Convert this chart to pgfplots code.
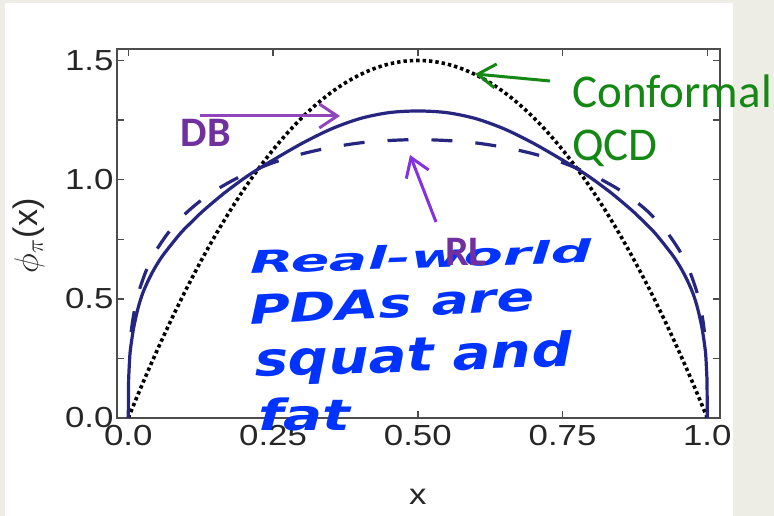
\RequirePackage{fix-cm}
\documentclass[border=0pt]{standalone}
\usepackage{pgfplots}
\pgfplotsset{compat=1.18}
\usepackage{fontspec}
\usepackage{graphicx}
\usetikzlibrary{arrows.meta}
\setmainfont{Liberation Sans}
\newfontfamily\tickfont[FakeStretch=1.2]{Liberation Sans}
\newfontfamily\callfont{Carlito}
\newfontfamily\wafont{DejaVu Sans}
\definecolor{bgbeige}{RGB}{238,237,229}
\definecolor{navy}{RGB}{38,38,128}
\definecolor{dbpurple}{RGB}{112,48,160}
\definecolor{arrpurple}{RGB}{145,70,190}
\definecolor{rlarrow}{RGB}{130,50,225}
\definecolor{qcdgreen}{RGB}{20,135,20}
\definecolor{wablue}{RGB}{0,51,255}

\pgfplotstableread{
x y
0 0
0.025 0.14625
0.05 0.285
0.075 0.41625
0.1 0.54
0.125 0.65625
0.15 0.765
0.175 0.86625
0.2 0.96
0.225 1.04625
0.25 1.125
0.275 1.19625
0.3 1.26
0.325 1.31625
0.35 1.365
0.375 1.40625
0.4 1.44
0.425 1.46625
0.45 1.485
0.475 1.49625
0.5 1.5
0.525 1.49625
0.55 1.485
0.575 1.46625
0.6 1.44
0.625 1.40625
0.65 1.365
0.675 1.31625
0.7 1.26
0.725 1.19625
0.75 1.125
0.775 1.04625
0.8 0.96
0.825 0.86625
0.85 0.765
0.875 0.65625
0.9 0.54
0.925 0.41625
0.95 0.285
0.975 0.14625
1 0
}\conformal

\pgfplotstableread{
x y
0 0
0.0005 0.145
0.001 0.185
0.0029 0.269
0.0058 0.325
0.01 0.388
0.0173 0.465
0.025 0.524
0.0345 0.577
0.045 0.626
0.0576 0.675
0.075 0.730
0.092 0.780
0.11 0.824
0.127 0.864
0.147 0.906
0.167 0.946
0.19 0.988
0.213 1.027
0.25 1.082
0.3 1.152
0.35 1.212
0.4 1.256
0.45 1.281
0.5 1.288
0.55 1.281
0.6 1.256
0.65 1.212
0.7 1.152
0.75 1.082
0.787 1.027
0.81 0.988
0.833 0.946
0.853 0.906
0.873 0.864
0.89 0.824
0.908 0.780
0.925 0.730
0.9424 0.675
0.955 0.626
0.9655 0.577
0.975 0.524
0.9827 0.465
0.99 0.388
0.9942 0.325
0.9971 0.269
0.999 0.185
0.9995 0.145
1 0
}\dbdata

\pgfplotstableread{
x y
0.005 0.361
0.007 0.399
0.01 0.443
0.015 0.500
0.02 0.544
0.03 0.613
0.04 0.666
0.05 0.710
0.07 0.780
0.1 0.860
0.13 0.921
0.16 0.969
0.2 1.021
0.25 1.071
0.3 1.108
0.35 1.135
0.4 1.154
0.45 1.164
0.5 1.168
0.55 1.164
0.6 1.154
0.65 1.135
0.7 1.108
0.75 1.071
0.8 1.021
0.84 0.969
0.87 0.921
0.9 0.860
0.93 0.780
0.95 0.710
0.96 0.666
0.97 0.613
0.98 0.544
0.985 0.500
0.99 0.443
0.993 0.399
0.995 0.361
}\rldata

\begin{document}
\begin{tikzpicture}
\useasboundingbox (-117pt,-98pt) rectangle (657pt,418pt);
\fill[bgbeige] (-117pt,-98pt) rectangle (657pt,418pt);
\fill[white] (-112pt,-98pt) rectangle (616pt,415pt);
\begin{axis}[
  at={(0pt,0pt)}, anchor=south west,
  width=603pt, height=369pt, scale only axis,
  xmin=-0.0195, xmax=1.0219, ymin=0, ymax=1.548,
  xtick={0,0.25,0.5,0.75,1},
  xticklabels={0.0,0.25,0.50,0.75,1.0},
  ytick={0,0.5,1,1.5},
  yticklabels={0.0,0.5,1.0,1.5},
  minor ytick={0.25,0.75,1.25},
  tick align=inside,
  major tick length=7pt, minor tick length=7pt,
  axis line style={black!70, line width=1.6pt},
  tick style={black!70, line width=1.4pt},
  /pgf/number format/assume math mode=true,
  ticklabel style={font=\tickfont\fontsize{29}{29}\selectfont, text=black!85},
  xticklabel style={yshift=-4pt},
  xlabel={x},
  xlabel style={font=\tickfont\fontsize{29}{29}\selectfont, at={(axis description cs:0.499,-0.214)}, anchor=center, text=black!85},
  ylabel={$\phi_{\pi}$\kern1pt(x)},
  ylabel style={font=\fontsize{34}{34}\selectfont, at={(axis description cs:-0.146,0.493)}, anchor=center, text=black!85},
]
\addplot[black, line width=3.6pt, line cap=butt, dash pattern=on 3.4pt off 3pt, smooth] table[x=x,y=y]{\conformal};
\addplot[navy, line width=3.2pt, smooth] table[x=x,y=y]{\dbdata};
\addplot[navy, line width=3.2pt, dash pattern=on 21pt off 23pt, smooth] table[x=x,y=y]{\rldata};
\end{axis}
% blue word art text
\begin{scope}[every node/.style={inner sep=0pt, text=wablue}]
\node[anchor=base west, rotate=2, font=\wafont\bfseries\itshape\fontsize{31}{31}\selectfont] at (133pt,144pt) {\scalebox{1.84}[1]{Real-world}};
\node[anchor=base west, rotate=3, font=\wafont\bfseries\itshape\fontsize{40}{40}\selectfont] at (133pt,93pt) {\scalebox{1.39}[1]{PDAs are}};
\node[anchor=base west, rotate=2, font=\wafont\bfseries\itshape\fontsize{47}{47}\selectfont] at (138pt,41pt) {\scalebox{1.2}[1]{squat and}};
\node[anchor=base west, font=\wafont\bfseries\itshape\fontsize{43}{43}\selectfont] at (141pt,-13pt) {\scalebox{1.35}[1]{fat}};
\end{scope}
% annotations
\node[inner sep=0pt, text=dbpurple, font=\callfont\bfseries\fontsize{42}{42}\selectfont] at (89pt,285pt) {DB};
\draw[arrpurple, line width=3pt, -{Straight Barb[length=18pt,width=24pt]}] (83pt,302pt) -- (223pt,302pt);
\node[inner sep=0pt, text=dbpurple, font=\callfont\bfseries\fontsize{42}{42}\selectfont] at (349pt,166pt) {RL};
\draw[rlarrow, line width=3pt, -{Straight Barb[length=18pt,width=24pt]}] (319pt,196pt) -- (293pt,263pt);
\draw[qcdgreen, line width=3pt, -{Straight Barb[length=18pt,width=24pt]}] (433pt,337pt) -- (358pt,344pt);
\node[anchor=base west, inner sep=0pt, text=qcdgreen, font=\callfont\fontsize{47}{47}\selectfont] at (455pt,310pt) {Conformal};
\node[anchor=base west, inner sep=0pt, text=qcdgreen, font=\callfont\fontsize{47}{47}\selectfont] at (455pt,257pt) {QCD};
\end{tikzpicture}
\end{document}
